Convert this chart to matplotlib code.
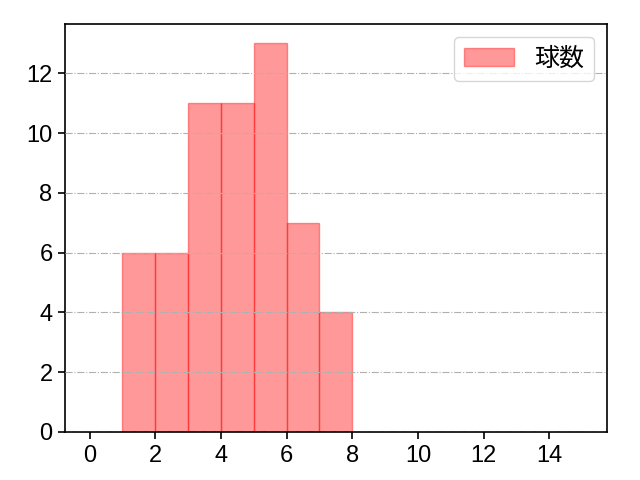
import matplotlib
matplotlib.use("Agg")
import matplotlib.pyplot as plt
import numpy as np

plt.rcParams['font.family'] = ['Liberation Sans', 'Noto Sans CJK JP', 'DejaVu Sans']

bin_edges = list(range(0, 16))
counts = [0, 6, 6, 11, 11, 13, 7, 4, 0, 0, 0, 0, 0, 0, 0]
label = "球数"

fig = plt.figure(figsize=(6.4, 4.8), dpi=100)
ax = fig.add_axes([0.1016, 0.1, 0.8464, 0.85])
ax.hist(bin_edges[:-1], bins=bin_edges, weights=counts,
        color='red', alpha=0.4, edgecolor='red', linewidth=1, label=label)
ax.set_xlim(-0.75, 15.75)
ax.set_ylim(0, 13 * 1.05)
ax.set_xticks(range(0, 16, 2))
ax.set_yticks(range(0, 14, 2))
ax.grid(axis='y', color='#b0b0b0', linestyle='-.', linewidth=0.8)
ax.set_axisbelow(False)
for s in ax.spines.values():
    s.set_linewidth(1.2)
ax.tick_params(labelsize=17, length=5, width=1.2, pad=4)
ax.legend(loc='upper right', fontsize=18)
fig.savefig("out.png", dpi=100)
